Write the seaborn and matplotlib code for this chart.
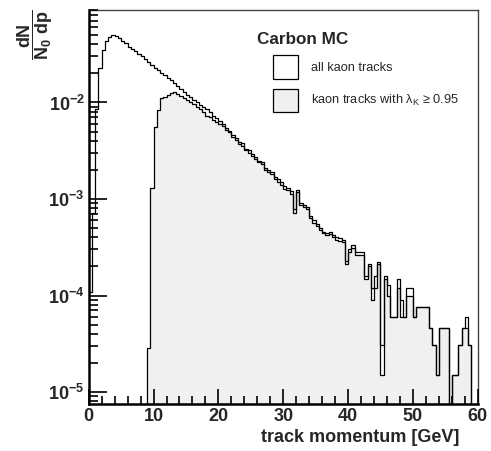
import numpy as np
import pandas as pd
import matplotlib
matplotlib.use("Agg")
import matplotlib.pyplot as plt
import seaborn as sns
from matplotlib.patches import Patch
from matplotlib.ticker import LogLocator, MultipleLocator, FuncFormatter, NullFormatter

# 0.5 GeV bins from 0 to 60 GeV
bin_edges = np.arange(0, 60.5, 0.5)
bin_centers = bin_edges[:-1] + 0.25

# all kaon tracks (dN / N0 dp)
all_kaon = [
    1.1e-4, 7.2e-4, 8.6e-3, 2.3e-2, 3.5e-2, 4.3e-2, 4.8e-2, 5.0e-2, 4.9e-2, 4.7e-2,
    4.3e-2, 4.1e-2, 3.8e-2, 3.6e-2, 3.4e-2, 3.2e-2, 3.0e-2, 2.8e-2, 2.65e-2, 2.45e-2,
    2.29e-2, 2.19e-2, 2.04e-2, 1.91e-2, 1.80e-2, 1.70e-2, 1.58e-2, 1.48e-2, 1.38e-2, 1.29e-2,
    1.20e-2, 1.13e-2, 1.07e-2, 1.00e-2, 9.5e-3, 9.0e-3, 8.6e-3, 8.0e-3, 7.3e-3, 6.9e-3,
    6.4e-3, 6.0e-3, 5.5e-3, 5.1e-3, 4.6e-3, 4.3e-3, 3.9e-3, 3.8e-3, 3.3e-3, 3.2e-3,
    2.9e-3, 2.7e-3, 2.5e-3, 2.4e-3, 2.1e-3, 2.0e-3, 1.9e-3, 1.7e-3, 1.6e-3, 1.5e-3,
    1.35e-3, 1.30e-3, 1.20e-3, 7.8e-4, 1.25e-3, 9.0e-4, 8.7e-4, 8.2e-4, 6.6e-4, 6.0e-4,
    5.5e-4, 5.0e-4, 4.6e-4, 4.4e-4, 4.5e-4, 4.2e-4, 4.0e-4, 3.9e-4, 3.8e-4, 2.3e-4,
    3.0e-4, 3.3e-4, 2.8e-4, 2.8e-4, 2.8e-4, 1.6e-4, 2.1e-4, 1.2e-4, 1.6e-4, 2.2e-4,
    3.1e-5, 1.6e-4, 1.3e-4, 6.0e-5, 6.0e-5, 1.5e-4, 8.9e-5, 6.0e-5, 1.2e-4, 1.2e-4,
    6.0e-5, 7.6e-5, 7.6e-5, 7.6e-5, 7.6e-5, 4.6e-5, 3.1e-5, 1.5e-5, 4.6e-5, 4.6e-5,
    4.6e-5, 0.0, 1.5e-5, 1.5e-5, 3.1e-5, 4.6e-5, 6.0e-5, 3.1e-5, 0.0, 0.0,
]

# kaon tracks with lambda_K >= 0.95
good_kaon = [
    0, 0, 0, 0, 0, 0, 0, 0, 0, 0,
    0, 0, 0, 0, 0, 0, 0, 0, 2.85e-5, 1.3e-3,
    5.6e-3, 8.4e-3, 1.10e-2, 1.15e-2, 1.20e-2, 1.24e-2, 1.28e-2, 1.22e-2, 1.18e-2, 1.12e-2,
    1.06e-2, 1.00e-2, 9.6e-3, 9.0e-3, 8.5e-3, 7.9e-3, 7.2e-3, 7.0e-3, 6.6e-3, 6.3e-3,
    6.0e-3, 5.7e-3, 5.2e-3, 4.9e-3, 4.4e-3, 4.1e-3, 3.7e-3, 3.5e-3, 3.2e-3, 3.0e-3,
    2.8e-3, 2.6e-3, 2.4e-3, 2.3e-3, 2.0e-3, 1.9e-3, 1.8e-3, 1.6e-3, 1.5e-3, 1.4e-3,
    1.28e-3, 1.24e-3, 1.12e-3, 7.2e-4, 1.18e-3, 8.6e-4, 8.3e-4, 7.8e-4, 6.3e-4, 5.7e-4,
    5.2e-4, 4.8e-4, 4.4e-4, 4.2e-4, 4.3e-4, 4.0e-4, 3.8e-4, 3.7e-4, 3.6e-4, 2.1e-4,
    2.8e-4, 3.1e-4, 2.6e-4, 2.6e-4, 2.6e-4, 1.5e-4, 2.0e-4, 8.9e-5, 1.2e-4, 2.1e-4,
    1.5e-5, 1.5e-4, 1.0e-4, 6.0e-5, 6.0e-5, 1.2e-4, 6.0e-5, 6.0e-5, 1.0e-4, 1.0e-4,
    6.0e-5, 7.6e-5, 7.6e-5, 7.6e-5, 7.6e-5, 4.6e-5, 3.1e-5, 1.5e-5, 4.6e-5, 4.6e-5,
    4.6e-5, 0.0, 1.5e-5, 1.5e-5, 3.1e-5, 4.6e-5, 4.6e-5, 3.1e-5, 0.0, 0.0,
]

legend_labels = ["all kaon tracks", "kaon tracks with \u03bb$_\\mathregular{K}$ \u2265 0.95"]

df = pd.DataFrame({"p": bin_centers, "all": all_kaon, "good": good_kaon})

sns.set_style("white")
plt.rcParams['font.family'] = ['Liberation Sans', 'DejaVu Sans']

fig = plt.figure(figsize=(4.91, 4.51), dpi=100)
ax = fig.add_axes([0.1807, 0.104, 0.7923, 0.874])
ax.set_yscale('log')
ax.set_axisbelow(False)

fill_col = '#f0f0f0'
sns.histplot(data=df, x="p", weights="good", binwidth=0.5, binrange=(0, 60), element='step',
             fill=True, color=fill_col, alpha=1, edgecolor='black', linewidth=0.9, ax=ax)
sns.histplot(data=df, x="p", weights="all", binwidth=0.5, binrange=(0, 60), element='step',
             fill=False, color='black', linewidth=0.9, ax=ax)

ax.set_xlim(0, 60)
ax.set_ylim(7.5e-6, 0.091)

# ROOT-like axes
ax.xaxis.set_major_locator(MultipleLocator(10))
ax.xaxis.set_minor_locator(MultipleLocator(2))
ax.yaxis.set_major_locator(LogLocator(base=10))
ax.yaxis.set_minor_locator(LogLocator(base=10, subs=np.arange(2, 10)))
ax.yaxis.set_minor_formatter(NullFormatter())
ax.yaxis.set_major_formatter(FuncFormatter(lambda v, p: r'$\mathregular{10^{%d}}$' % round(np.log10(v))))
ax.tick_params(axis='both', which='both', direction='in', top=False, right=False,
               bottom=True, left=True, width=1.2, color='black')
ax.tick_params(axis='x', which='major', length=11, pad=3)
ax.tick_params(axis='x', which='minor', length=5.5)
ax.tick_params(axis='y', which='major', length=13, pad=3)
ax.tick_params(axis='y', which='minor', length=6.5)
for lab in ax.get_xticklabels() + ax.get_yticklabels():
    lab.set_fontweight('bold')
    lab.set_fontsize(13)

for s in ['left', 'bottom']:
    ax.spines[s].set_linewidth(1.8)
    ax.spines[s].set_color('black')
for s in ['top', 'right']:
    ax.spines[s].set_linewidth(1.0)
    ax.spines[s].set_color('#444444')

ax.set_xlabel('track momentum [GeV]', fontweight='bold', fontsize=13, ha='right')
ax.xaxis.set_label_coords(0.952, -0.063)
ax.set_ylabel(r'$\mathregular{\dfrac{dN}{N_0\ dp}}$', fontweight='bold', fontsize=13, loc='top')
ax.yaxis.set_label_coords(-0.087, 1.0)

ax.text(0.433, 0.925, 'Carbon MC', transform=ax.transAxes, fontsize=12.3,
        fontweight='bold', ha='left', va='center')
handles = [Patch(facecolor='white', edgecolor='black', linewidth=0.9),
           Patch(facecolor=fill_col, edgecolor='black', linewidth=0.9)]
ax.legend(handles, legend_labels, loc='upper left', bbox_to_anchor=(0.473, 0.885),
          frameon=False, fontsize=9.2, handlelength=1.95, handleheight=2.45,
          handletextpad=1.05, labelspacing=0.78, borderpad=0, borderaxespad=0)

fig.savefig('out.png', dpi=100)
